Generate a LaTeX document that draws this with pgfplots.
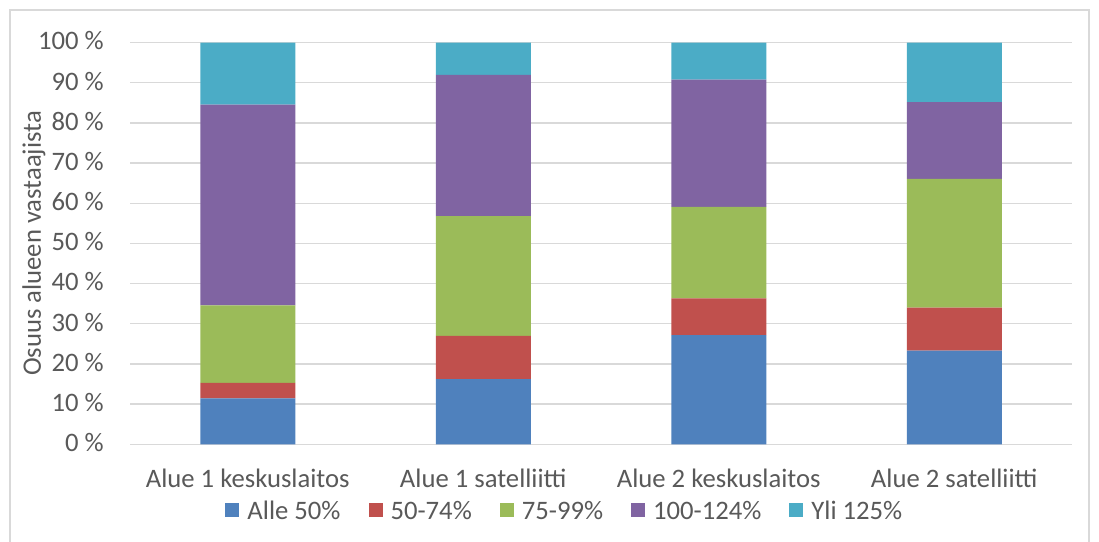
\documentclass[border=0pt]{standalone}
\usepackage{pgfplots}
\pgfplotsset{compat=1.18}
\usepackage{fontspec}
\setmainfont{Carlito}
\definecolor{cBlue}{HTML}{4F81BD}
\definecolor{cRed}{HTML}{C0504D}
\definecolor{cGreen}{HTML}{9BBB59}
\definecolor{cPurple}{HTML}{8064A2}
\definecolor{cCyan}{HTML}{4BACC6}
\definecolor{cGrid}{HTML}{D9D9D9}
\definecolor{cText}{HTML}{595959}
\begin{document}
\begin{tikzpicture}
\useasboundingbox (0,0) rectangle (824.25pt,406.5pt);
\draw[cGrid, line width=1pt] (7.5pt,-5pt) rectangle (816.75pt,399pt);
\begin{axis}[
  at={(97.5pt,73.3pt)}, anchor=south west,
  scale only axis, width=706.5pt, height=301.2pt,
  ybar stacked, bar width=71.25pt,
  xmin=-0.5, xmax=3.5, ymin=0, ymax=100,
  xtick={0,1,2,3},
  xticklabels={Alue 1 keskuslaitos, Alue 1 satelliitti, Alue 2 keskuslaitos, Alue 2 satelliitti},
  ytick={0,10,...,100},
  yticklabel={\pgfmathprintnumber{\tick}~\%},
  /pgf/number format/assume math mode=true,
  font=\fontsize{20}{24}\selectfont,
  major tick length=0pt,
  axis y line*=left,
  y axis line style={draw=none},
  axis x line*=bottom,
  x axis line style={cGrid, line width=1pt, -},
  ymajorgrids, grid style={cGrid, line width=1pt},
  axis on top=false,
  tick label style={text=cText},
  yticklabel style={anchor=base east, inner sep=0pt, xshift=-19.5pt, yshift=-5.5pt},
  xticklabel style={anchor=base, inner sep=0pt, yshift=-32.25pt},
  ylabel={Osuus alueen vastaajista},
  every axis y label/.style={at={(axis description cs:-0.0945,0.5)}, rotate=90, anchor=base, text=cText},
  legend columns=5,
  legend style={at={(axis description cs:0.462,-0.166)}, anchor=center, draw=none, fill=none,
    text=cText, font=\fontsize{20}{24}\selectfont,
    /tikz/every even column/.append style={column sep=19pt},
    /tikz/every odd column/.append style={column sep=4pt}},
  legend image code/.code={\fill[#1] (0pt,-4.5pt) rectangle (10.5pt,6pt);},
  every axis plot/.append style={draw=none},
]
\addplot[fill=cBlue] coordinates {(0,11.4) (1,16.2) (2,27.2) (3,23.3)};
\addplot[fill=cRed] coordinates {(0,3.9) (1,10.8) (2,9.1) (3,10.7)};
\addplot[fill=cGreen] coordinates {(0,19.3) (1,29.8) (2,22.8) (3,32.1)};
\addplot[fill=cPurple] coordinates {(0,50.0) (1,35.2) (2,31.7) (3,19.1)};
\addplot[fill=cCyan] coordinates {(0,15.4) (1,8.0) (2,9.2) (3,14.8)};
\legend{Alle 50\%, 50-74\%, 75-99\%, 100-124\%, Yli 125\%}
\end{axis}
\end{tikzpicture}
\end{document}
